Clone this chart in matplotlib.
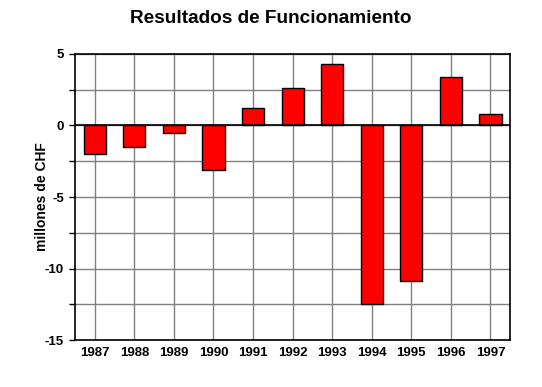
import numpy as np
from matplotlib import pyplot as plt

years = ["1987", "1988", "1989", "1990", "1991", "1992", "1993", "1994", "1995", "1996", "1997"]
resultados = [-2.0, -1.5, -0.5, -3.1, 1.2, 2.6, 4.3, -12.5, -10.9, 3.4, 0.8]

plt.rcParams['font.family'] = ['Liberation Sans', 'DejaVu Sans']
plt.rcParams['axes.unicode_minus'] = False

fig = plt.figure(figsize=(5.42, 3.87), dpi=100)
ax = fig.add_axes([0.1384, 0.1214, 0.8030, 0.7391])

x = np.arange(len(years))
ax.bar(x, resultados, width=0.56, color="#ff0000", edgecolor="black", linewidth=1, zorder=3)
ax.axhline(0, color="black", linewidth=1.2, zorder=4)

ax.set_xlim(-0.5, len(years) - 0.5)
ax.set_ylim(-15, 5)
ax.set_yticks([-15, -10, -5, 0, 5])
ax.set_yticks(np.arange(-15, 5.1, 2.5), minor=True)
ax.set_xticks(x)
ax.set_xticklabels(years, fontsize=9.5, fontweight="bold")
for lab in ax.get_yticklabels():
    lab.set_fontsize(9.5)
    lab.set_fontweight("bold")

ax.grid(True, which="both", color="#808080", linewidth=1, zorder=0)
ax.set_axisbelow(True)
ax.tick_params(axis="x", length=0, pad=5)
ax.tick_params(axis="y", which="both", length=4, width=1, color="black", pad=4)

for s in ax.spines.values():
    s.set_color("black")
    s.set_linewidth(1.2)

ax.set_ylabel("millones de CHF", fontsize=10, fontweight="bold", labelpad=-3)
fig.suptitle("Resultados de Funcionamiento", fontsize=13.7, fontweight="bold", y=0.975)

plt.savefig("out.png", dpi=100)
